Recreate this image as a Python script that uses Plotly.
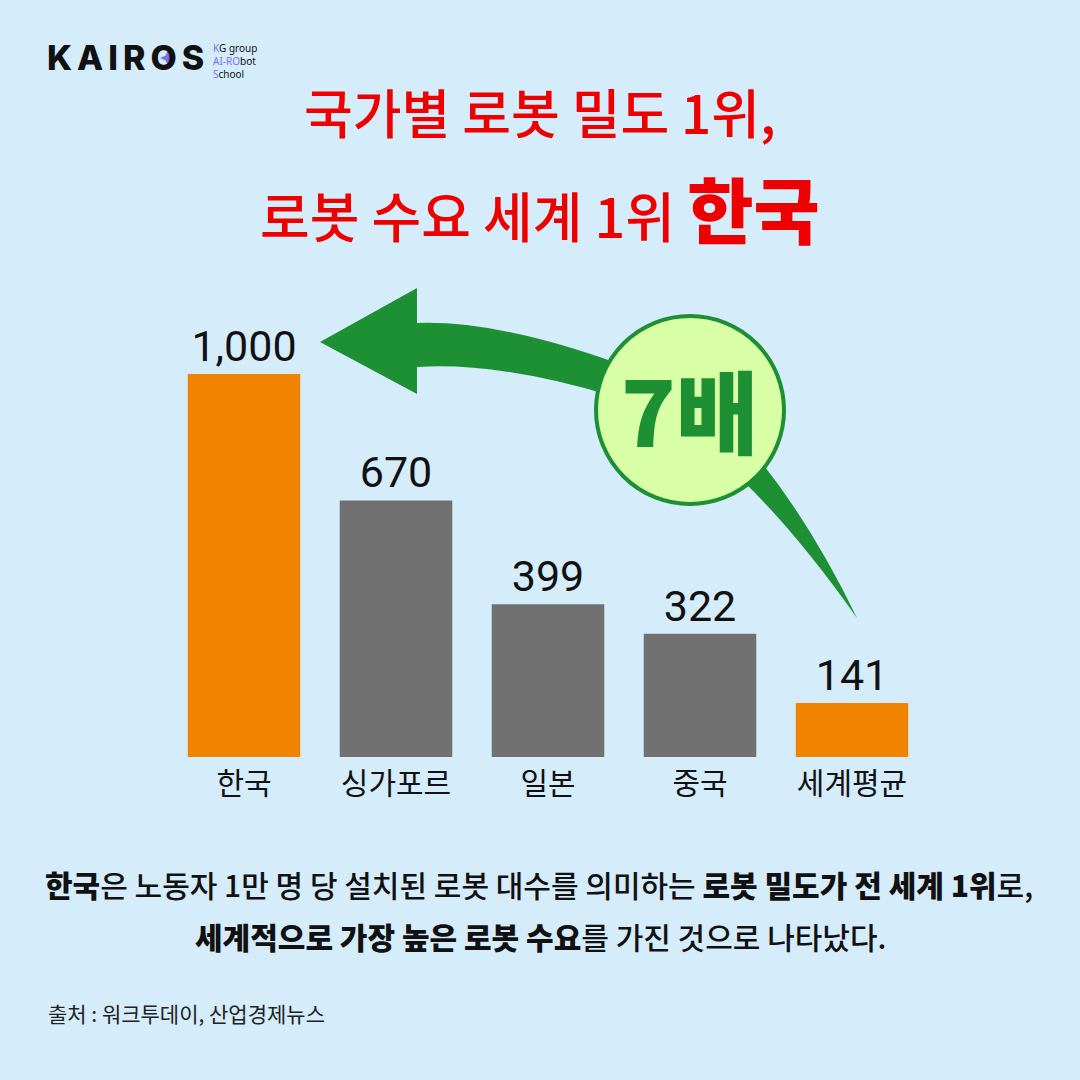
import plotly.graph_objects as go

# ---------------- data ----------------
categories = ["한국", "싱가포르", "일본", "중국", "세계평균"]
values = [1000, 670, 399, 322, 141]
highlighted = ["한국", "세계평균"]

title_line1 = "국가별 로봇 밀도 1위,"
title_line2_a = "로봇 수요 세계 1위 "
title_line2_b = "한국"
badge_text = "7배"
body_line1 = ("<span style='font-weight:900'>한국</span>은 노동자 1만 명 당 설치된 로봇 대수를 의미하는 "
              "<span style='font-weight:900'>로봇 밀도가 전 세계 1위</span>로,")
body_line2 = ("<span style='font-weight:900'>세계적으로 가장 높은 로봇 수요</span>를 가진 것으로 나타났다.")
source_text = "출처 : 워크투데이, 산업경제뉴스"
logo_text = "\u2009".join("KAIROS")

# ---------------- style ----------------
W = H = 1080
BG = "#D5ECFB"
ORANGE = "#F08300"
GREY = "#707070"
GREEN = "#1D9034"
RED = "#EF0000"
PURPLE = "#7C6CF5"
KR = "Noto Sans CJK KR"

def fx(x):
    return x / W

def fy(y):
    return 1 - y / H

def P(x, y):
    return f"{fx(x):.5f},{fy(y):.5f}"

bar_colors = [ORANGE if c in highlighted else GREY for c in categories]

fig = go.Figure()
fig.add_trace(go.Bar(
    x=categories, y=values,
    marker=dict(color=bar_colors, line=dict(width=0)),
    texttemplate="%{y:,}", textposition="outside",
    textfont=dict(family="Roboto", size=43, color="#111111"),
    cliponaxis=False, hoverinfo="skip",
))

# ---------------- decorative arrow + badge ----------------
arrow_path = ("M " + P(320, 342) + " L " + P(417, 288) + " L " + P(417, 323) +
              " Q " + P(500, 320) + " " + P(625, 366) +
              " L " + P(612, 396) +
              " Q " + P(500, 362) + " " + P(417, 367) +
              " L " + P(417, 394) + " Z")
tail_path = ("M " + P(758, 458) + " Q " + P(812, 525) + " " + P(857, 618) +
             " Q " + P(797, 533) + " " + P(742, 480) + " Z")

# small four-point star inside the logo's "O"
sx, sy, ro, ri = 168, 58, 8, 2.4
star_pts = [(sx, sy - ro), (sx + ri, sy - ri), (sx + ro, sy), (sx + ri, sy + ri),
            (sx, sy + ro), (sx - ri, sy + ri), (sx - ro, sy), (sx - ri, sy - ri)]
star_path = "M " + " L ".join(P(x, y) for x, y in star_pts) + " Z"

shapes = [
    dict(type="path", xref="paper", yref="paper", path=arrow_path,
         fillcolor=GREEN, line=dict(width=0), layer="above"),
    dict(type="path", xref="paper", yref="paper", path=tail_path,
         fillcolor=GREEN, line=dict(width=0), layer="above"),
    dict(type="circle", xref="paper", yref="paper",
         x0=fx(596), x1=fx(784), y0=fy(504), y1=fy(316),
         fillcolor="#D9FFA6", line=dict(color=GREEN, width=4), layer="above"),
    dict(type="path", xref="paper", yref="paper", path=star_path,
         fillcolor=PURPLE, line=dict(width=0), layer="above"),
]

annotations = [
    # badge text
    dict(x=fx(690), y=fy(408), xref="paper", yref="paper", text=badge_text,
         showarrow=False, font=dict(family=KR, size=90, color=GREEN, weight=900),
         xanchor="center", yanchor="middle"),
    # title
    dict(x=fx(540), y=fy(111), xref="paper", yref="paper", text=title_line1,
         showarrow=False, font=dict(family=KR, size=53, color=RED, weight=500),
         xanchor="center", yanchor="middle"),
    dict(x=fx(540), y=fy(207), xref="paper", yref="paper",
         text=title_line2_a + "<span style='font-size:72px;font-weight:900'>" + title_line2_b + "</span>",
         showarrow=False, font=dict(family=KR, size=54, color=RED, weight=500),
         xanchor="center", yanchor="middle"),
    # body
    dict(x=fx(539), y=fy(884), xref="paper", yref="paper", text=body_line1,
         showarrow=False, font=dict(family=KR, size=30, color="#111111", weight=500),
         xanchor="center", yanchor="middle"),
    dict(x=fx(540), y=fy(936), xref="paper", yref="paper", text=body_line2,
         showarrow=False, font=dict(family=KR, size=30, color="#111111", weight=500),
         xanchor="center", yanchor="middle"),
    # source
    dict(x=fx(46), y=fy(1013), xref="paper", yref="paper", text=source_text,
         showarrow=False, font=dict(family=KR, size=21, color="#222222"),
         xanchor="left", yanchor="middle"),
    # logo
    dict(x=fx(45), y=fy(58), xref="paper", yref="paper", text=logo_text,
         showarrow=False, font=dict(family="Inter", size=34, color="#111111", weight=800),
         xanchor="left", yanchor="middle"),
    dict(x=fx(211), y=fy(61), xref="paper", yref="paper",
         text=(f"<span style='color:{PURPLE}'>K</span>G group<br>"
               f"<span style='color:{PURPLE}'>AI-RO</span>bot<br>"
               f"<span style='color:{PURPLE}'>S</span>chool"),
         showarrow=False, align="left",
         font=dict(family="Noto Sans", size=10, color="#111111"),
         xanchor="left", yanchor="middle"),
]

fig.update_layout(
    width=W, height=H, autosize=False,
    margin=dict(l=0, r=0, t=0, b=0),
    paper_bgcolor=BG, plot_bgcolor=BG,
    showlegend=False, bargap=0.26,
    shapes=shapes, annotations=annotations,
    xaxis=dict(domain=[fx(168), fx(928)], showgrid=False, zeroline=False, showline=False,
               ticks="", tickfont=dict(family=KR, size=30, color="#111111"),
               ticklabelstandoff=6, fixedrange=True),
    yaxis=dict(domain=[fy(757), fy(300)], range=[0, 1000 * 457 / 383], visible=False,
               showgrid=False, zeroline=False, fixedrange=True),
)

fig.write_html(
    "out.html",
    config={"displayModeBar": False},
    post_script="document.body.style.margin='0';document.body.style.overflow='hidden';",
)
